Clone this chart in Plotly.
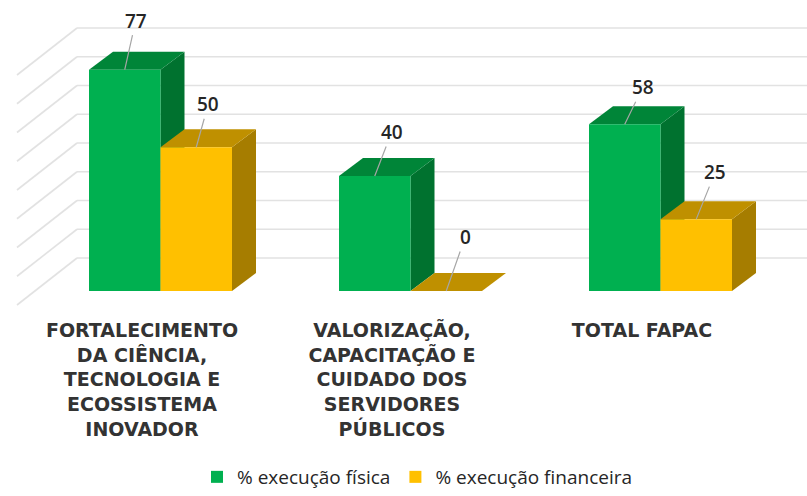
import plotly.graph_objects as go

categories = ["FORTALECIMENTO<br>DA CIÊNCIA,<br>TECNOLOGIA E<br>ECOSSISTEMA<br>INOVADOR",
              "VALORIZAÇÃO,<br>CAPACITAÇÃO E<br>CUIDADO DOS<br>SERVIDORES<br>PÚBLICOS",
              "TOTAL FAPAC"]
fisica = [77, 40, 58]
financeira = [50, 0, 25]
grid_values = [0, 10, 20, 30, 40, 50, 60, 70, 80]
positions = [0, 1, 2]

W, H = 807, 496
BASE_PX, PX_PER_UNIT = 291, 2.875
X0_PX, PX_PER_CAT = 142, 250
def dx(px): return px / PX_PER_CAT
def dy(px): return px / PX_PER_UNIT

BAR_W = dx(71.5)
GREEN_OFF = dx(89 - X0_PX)
YELLOW_OFF = GREEN_OFF + BAR_W
DEPTH_X, DEPTH_Y = dx(24), dy(18)
GRID = "#E2E2E2"

shapes = []
x_left, x_back, x_right = dx(17 - X0_PX), dx(77 - X0_PX), dx(W - X0_PX)
for v in grid_values:
    back = v + dy(291 - 258)
    front = v + dy(291 - 305)
    shapes.append(dict(type="line", x0=x_left, y0=front, x1=x_back, y1=back, layer="below",
                       line=dict(color=GRID, width=1.6)))
    shapes.append(dict(type="line", x0=x_back, y0=back, x1=x_right, y1=back, layer="below",
                       line=dict(color=GRID, width=1.6)))

def poly(pts, color):
    path = "M" + " L".join(f"{x},{y}" for x, y in pts) + " Z"
    return dict(type="path", path=path, fillcolor=color, line=dict(width=0), layer="below")

def faces(pos, value, off, side_col, top_col):
    x0, x1 = pos + off, pos + off + BAR_W
    out = []
    if value > 0:
        out.append(poly([(x1, 0), (x1 + DEPTH_X, DEPTH_Y), (x1 + DEPTH_X, value + DEPTH_Y), (x1, value)], side_col))
    out.append(poly([(x0, value), (x0 + DEPTH_X, value + DEPTH_Y), (x1 + DEPTH_X, value + DEPTH_Y), (x1, value)], top_col))
    return out

for p, a, b in zip(positions, fisica, financeira):
    shapes += faces(p, a, GREEN_OFF, "#00722F", "#008538")
    shapes += faces(p, b, YELLOW_OFF, "#A67D00", "#BF9000")

fig = go.Figure()
fig.add_bar(x=positions, y=fisica, width=BAR_W, offset=GREEN_OFF, name="% execução física",
            marker=dict(color="#00B050", line=dict(width=0)))
fig.add_bar(x=positions, y=financeira, width=BAR_W, offset=YELLOW_OFF, name="% execução financeira",
            marker=dict(color="#FFC000", line=dict(width=0)))

label_offsets = [(11, -49), (12, -43), (17, -44), (19, -54), (18, -37), (19, -47)]
vals = [(positions[0], fisica[0], GREEN_OFF), (positions[0], financeira[0], YELLOW_OFF),
        (positions[1], fisica[1], GREEN_OFF), (positions[1], financeira[1], YELLOW_OFF),
        (positions[2], fisica[2], GREEN_OFF), (positions[2], financeira[2], YELLOW_OFF)]
annotations = []
for (p, v, off), (ax, ay) in zip(vals, label_offsets):
    annotations.append(dict(x=p + off + BAR_W / 2, y=v, text=str(v), showarrow=True, arrowhead=0,
                            arrowwidth=1.2, arrowcolor="#A6A6A6", ax=ax, ay=ay,
                            font=dict(family="Open Sans", size=19, weight=600, color="#262626")))

fig.update_layout(
    width=W, height=H, barmode="overlay", paper_bgcolor="white", plot_bgcolor="white",
    margin=dict(l=0, r=0, t=0, b=H - 310), autosize=False, shapes=shapes, annotations=annotations,
    xaxis=dict(range=[dx(0 - X0_PX), dx(W - X0_PX)], tickvals=positions, ticktext=categories,
               showgrid=False, zeroline=False, showline=False, ticks="", ticklabelstandoff=7,
               automargin=False,
               tickangle=0, tickfont=dict(family="DejaVu Sans", size=19, weight=700, color="#333333")),
    yaxis=dict(range=[dy(291 - 310), dy(291)], visible=False, showgrid=False, zeroline=False),
    showlegend=True,
    legend=dict(orientation="h", x=197 / W, xref="container", y=-0.012, yref="container",
                xanchor="left", yanchor="bottom",
                font=dict(family="Open Sans", size=19, color="#262626"),
                bgcolor="rgba(0,0,0,0)"),
)
fig.write_html("out.html", post_script="document.body.style.margin='0';",
               config={"displayModeBar": False})
